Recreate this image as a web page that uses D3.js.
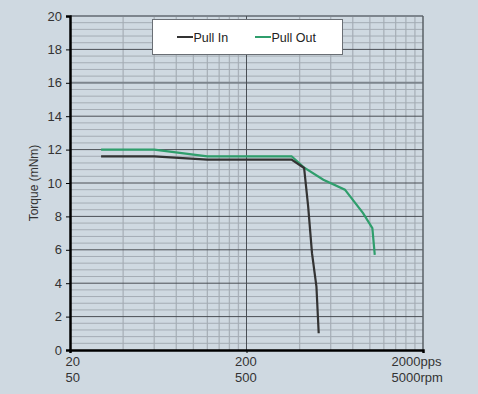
<!DOCTYPE html>
<html><head><meta charset="utf-8">
<script src="https://cdn.jsdelivr.net/npm/d3@7"></script>
<style>
html,body{margin:0;padding:0;background:#cfd9e1;}
svg{display:block;font-family:"Liberation Sans",Arial,sans-serif;}
</style></head>
<body>
<svg id="c" width="478" height="394"></svg>
<script>
const xTicksPps = [20, 200, 2000];
const xTicksRpm = ["50", "500", "5000rpm"];
const xTickLabels = ["20", "200", "2000pps"];
const yTicks = [0, 2, 4, 6, 8, 10, 12, 14, 16, 18, 20];
const seriesNames = ["Pull In", "Pull Out"];
const pullInX = [30, 60, 120, 360, 424, 447, 470, 498, 513];
const pullInY = [11.6, 11.6, 11.4, 11.4, 10.9, 8.6, 5.8, 3.8, 1.0];
const pullOutX = [30, 60, 120, 360, 427, 545, 722, 915, 1033, 1066];
const pullOutY = [12.0, 12.0, 11.6, 11.6, 10.9, 10.2, 9.6, 8.2, 7.3, 5.7];

const svg = d3.select("#c");
const L = 70, R = 423, T = 16, B = 350;
const x = d3.scaleLog().domain([20, 2000]).range([L, R]);
const y = d3.scaleLinear().domain([0, 20]).range([B, T]);

svg.append("rect").attr("width", 478).attr("height", 394).attr("fill", "#cfd9e1");

// minor vertical grid
const minorX = [];
for (const d of [20, 200]) for (let k = 2; k <= 9; k++) minorX.push(d * k);
const g = svg.append("g");
g.selectAll(".vx").data(minorX.filter(v => v !== 200 && v < 2000)).enter().append("line")
  .attr("x1", d => x(d)).attr("x2", d => x(d)).attr("y1", T).attr("y2", B)
  .attr("stroke", "#a9b1b9").attr("stroke-width", 1.3);
// minor horizontal grid
const minorY = d3.range(0, 20.01, 0.4).filter(v => Math.abs(v / 2 - Math.round(v / 2)) > 0.01);
g.selectAll(".hy").data(minorY).enter().append("line")
  .attr("x1", L).attr("x2", R).attr("y1", d => y(d)).attr("y2", d => y(d))
  .attr("stroke", "#a4acb4").attr("stroke-width", 1);
// major horizontal grid
g.selectAll(".hm").data(yTicks.filter(v => v > 0)).enter().append("line")
  .attr("x1", L).attr("x2", R).attr("y1", d => y(d)).attr("y2", d => y(d))
  .attr("stroke", d => (d === 16 || d === 20) ? "#7d858d" : "#4a4f55")
  .attr("stroke-width", d => (d === 16 || d === 20) ? 2 : 1);
// major vertical grid
g.append("line").attr("x1", x(200)).attr("x2", x(200)).attr("y1", T).attr("y2", B)
  .attr("stroke", "#4a4f55").attr("stroke-width", 1);
g.append("line").attr("x1", x(2000)).attr("x2", x(2000)).attr("y1", T).attr("y2", B)
  .attr("stroke", "#5a6066").attr("stroke-width", 1.5);

// axes
const yAxis = d3.axisLeft(y).tickValues(yTicks).tickSize(4).tickPadding(4);
const ya = svg.append("g").attr("transform", `translate(${L},0)`).call(yAxis);
ya.select(".domain").attr("stroke", "#000").attr("stroke-width", 2.5);
ya.selectAll(".tick line").attr("stroke", "#000");
ya.selectAll("text").attr("font-size", 13).attr("fill", "#333").attr("font-family", "Liberation Sans, Arial, sans-serif");

const xAxis = d3.axisBottom(x).tickValues(xTicksPps).tickSize(3).tickFormat((d, i) => "");
const xa = svg.append("g").attr("transform", `translate(0,${B})`).call(xAxis);
xa.select(".domain").attr("stroke", "#000").attr("stroke-width", 2.5);
xa.selectAll(".tick line").attr("stroke", "#000");
xa.selectAll(".tick").each(function (d, i) {
  const t = d3.select(this).append("text").attr("fill", "#333").attr("font-size", 13)
    .attr("font-family", "Liberation Sans, Arial, sans-serif").attr("text-anchor", "start");
  const dx = i === 2 ? -32 : (i === 0 ? -5 : -12);
  t.append("tspan").attr("x", dx).attr("y", 16).text(xTickLabels[i]);
  t.append("tspan").attr("x", dx).attr("y", 32).text(xTicksRpm[i]);
});

// y title
svg.append("text").attr("transform", `translate(38,${(T + B) / 2}) rotate(-90)`)
  .attr("text-anchor", "middle").attr("font-size", 12).attr("fill", "#333")
  .text("Torque (mNm)");

// lines
const line = d3.line().x(d => x(d[0])).y(d => y(d[1]));
svg.append("path").datum(pullOutX.map((v, i) => [v, pullOutY[i]]))
  .attr("d", line).attr("fill", "none").attr("stroke", "#2f9e6c").attr("stroke-width", 2.2);
svg.append("path").datum(pullInX.map((v, i) => [v, pullInY[i]]))
  .attr("d", line).attr("fill", "none").attr("stroke", "#333").attr("stroke-width", 2.2);

// legend
const lg = svg.append("g");
lg.append("rect").attr("x", 152.5).attr("y", 19.5).attr("width", 190).attr("height", 35)
  .attr("fill", "#fff").attr("stroke", "#6a6f75").attr("stroke-width", 1);
const items = [{ n: seriesNames[0], c: "#333", x: 177 }, { n: seriesNames[1], c: "#2f9e6c", x: 255 }];
items.forEach(it => {
  lg.append("line").attr("x1", it.x).attr("x2", it.x + 16).attr("y1", 37).attr("y2", 37)
    .attr("stroke", it.c).attr("stroke-width", 2);
  lg.append("text").attr("x", it.x + 16.5).attr("y", 41.5).attr("font-size", 12.5).attr("fill", "#222")
    .text(it.n);
});
</script>
</body></html>
